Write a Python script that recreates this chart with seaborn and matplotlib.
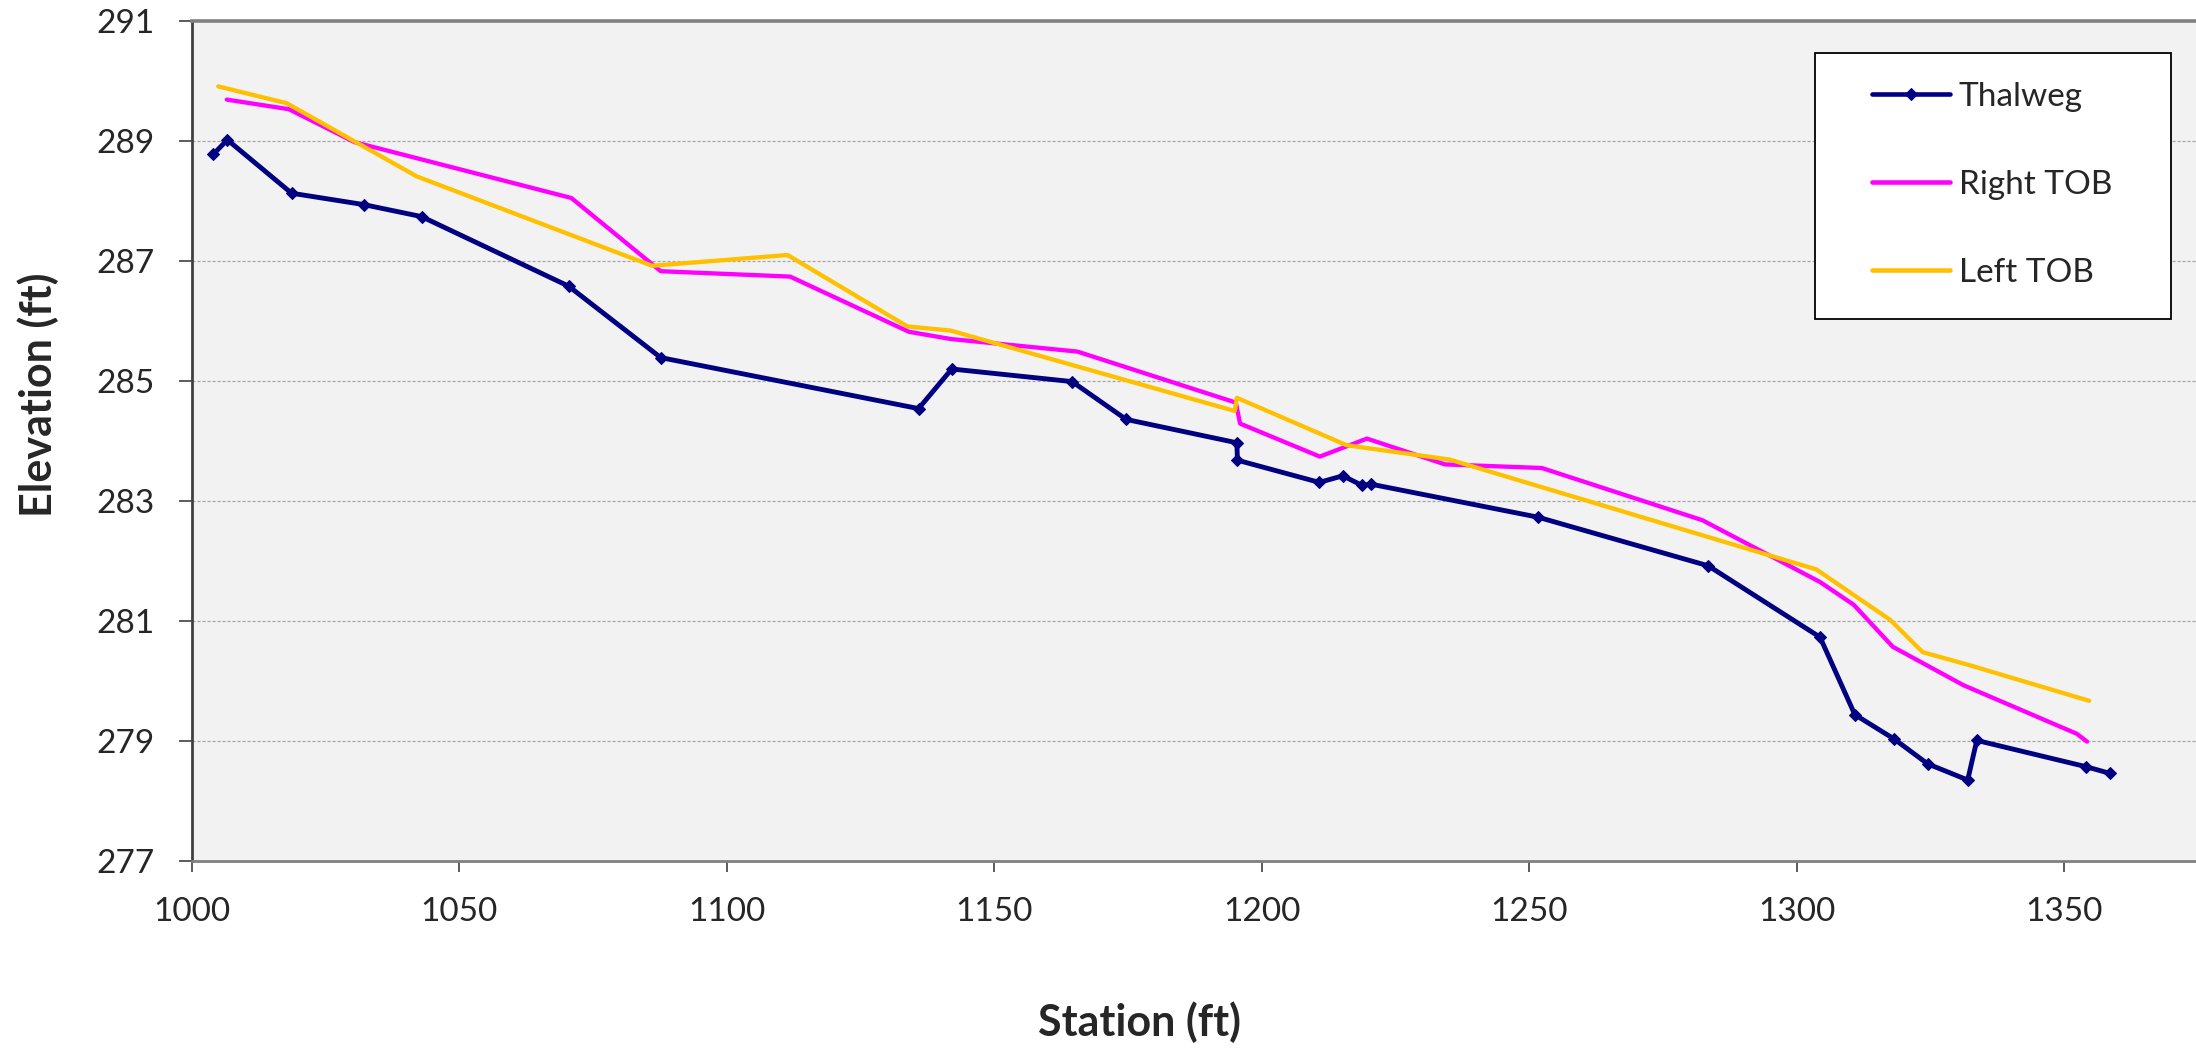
"""
Longitudinal profile: thalweg and top-of-bank elevations along the reach.
Redraws the Excel-style chart with seaborn/matplotlib and saves out.png.
"""
import matplotlib
matplotlib.use("Agg")
import matplotlib.pyplot as plt
import matplotlib.patches as mpatches
import numpy as np
import pandas as pd
import seaborn as sns

# --- data (station ft, elevation ft) ---
thalweg_station = [1004.1, 1006.7, 1018.7, 1032.2, 1043.0, 1070.5, 1087.7, 1135.9, 1142.1,
                   1164.6, 1174.7, 1195.4, 1195.5, 1210.8, 1215.2, 1218.8, 1220.5, 1251.7,
                   1283.5, 1304.4, 1310.9, 1318.3, 1324.5, 1332.0, 1333.7, 1354.2, 1358.6]
thalweg_elev = [288.78, 289.02, 288.13, 287.94, 287.74, 286.58, 285.39, 284.54, 285.20,
                284.99, 284.36, 283.97, 283.68, 283.31, 283.42, 283.26, 283.28, 282.73,
                281.92, 280.73, 279.44, 279.03, 278.62, 278.35, 279.01, 278.57, 278.46]

right_tob_station = [1006.6, 1018.2, 1030.5, 1071.0, 1087.7, 1111.9, 1134.1, 1141.9, 1165.6,
                     1195.2, 1196.0, 1210.9, 1219.7, 1234.3, 1252.4, 1282.4, 1304.4, 1310.7,
                     1318.0, 1331.2, 1352.4, 1354.3]
right_tob_elev = [289.69, 289.53, 288.98, 288.05, 286.83, 286.74, 285.82, 285.70, 285.49,
                  284.64, 284.29, 283.74, 284.04, 283.61, 283.55, 282.68, 281.65, 281.27,
                  280.57, 279.93, 279.12, 278.99]

left_tob_station = [1005.0, 1017.8, 1042.1, 1086.1, 1111.4, 1133.8, 1141.9, 1195.0, 1195.4,
                    1215.9, 1235.2, 1303.7, 1317.5, 1323.6, 1332.1, 1354.7]
left_tob_elev = [289.91, 289.63, 288.41, 286.92, 287.10, 285.91, 285.84, 284.50, 284.72,
                 283.93, 283.69, 281.86, 281.02, 280.48, 280.27, 279.67]

x_ticks = [1000, 1050, 1100, 1150, 1200, 1250, 1300, 1350]
y_ticks = [277, 279, 281, 283, 285, 287, 289, 291]

FIG_W, FIG_H = 2196, 1048

sns.set_theme(style="white")
plt.rcParams["font.family"] = ["Lato", "DejaVu Sans"]

fig = plt.figure(figsize=(FIG_W / 100, FIG_H / 100), dpi=100)
ax = fig.add_axes([191.5 / FIG_W, 1 - 861 / FIG_H, (FIG_W - 191.5) / FIG_W, 840 / FIG_H])
ax.set_facecolor("#F2F2F2")

series = [
    ("Thalweg", thalweg_station, thalweg_elev, "#000080", "D", 3.5),
    ("Right TOB", right_tob_station, right_tob_elev, "#FF00FF", None, 3.1),
    ("Left TOB", left_tob_station, left_tob_elev, "#FFC000", None, 3.1),
]
for name, xs, ys, color, marker, lw in series:
    df = pd.DataFrame({"station": xs, "elev": ys})
    sns.lineplot(data=df, x="station", y="elev", ax=ax, sort=False, estimator=None,
                 color=color, linewidth=lw, marker=marker, markersize=6.5,
                 markeredgecolor=color, label=name, zorder=3)

ax.set_xlim(1000, 1000 + (FIG_W - 191.5) / 5.35)
ax.set_ylim(277, 291)
ax.set_xticks(x_ticks)
ax.set_yticks(y_ticks)

# dashed horizontal gridlines as in the Excel chart
for yv in y_ticks[1:-1]:
    ax.axhline(yv, color="#A6A6A6", linewidth=0.9, linestyle=(0, (2.5, 1.5)), zorder=1)

for side in ["top", "left", "bottom"]:
    ax.spines[side].set_visible(True)
    ax.spines[side].set_color("#808080")
ax.spines["top"].set_linewidth(2.6)
ax.spines["bottom"].set_linewidth(2.0)
ax.spines["left"].set_linewidth(2.0)
ax.spines["left"].set_color("#404040")
ax.spines["right"].set_visible(False)

ax.tick_params(axis="y", direction="out", length=9.5, width=1.2, color="#404040",
               pad=17, labelsize=24, left=True)
ax.tick_params(axis="x", direction="out", length=8, width=1.2, color="#404040",
               pad=18, labelsize=24, bottom=True)

ax.set_xlabel("Station (ft)", fontsize=31, fontweight="bold")
ax.set_ylabel("Elevation (ft)", fontsize=31, fontweight="bold")
ax.xaxis.set_label_coords((1140 - 191.5) / (FIG_W - 191.5), (861 - 1022) / 840)
ax.yaxis.set_label_coords((38 - 191.5) / (FIG_W - 191.5), (861 - 395) / 840)
ax.xaxis.label.set_va("center")
ax.yaxis.label.set_va("center")

# legend box drawn as a white panel, entries placed inside it
box = mpatches.Rectangle((1815 / FIG_W, 1 - 319 / FIG_H), (2171 - 1815) / FIG_W,
                         (319 - 53) / FIG_H, transform=fig.transFigure,
                         facecolor="white", edgecolor="black", linewidth=1.3,
                         zorder=4, clip_on=False)
ax.add_patch(box)
leg = ax.legend(loc="upper left", bbox_to_anchor=(1872 / FIG_W, 1 - 82 / FIG_H),
                bbox_transform=fig.transFigure, frameon=False, fontsize=24,
                borderpad=0, borderaxespad=0, handlelength=2.35, handletextpad=0.25,
                labelspacing=1.74)
leg.set_zorder(5)
for h in leg.legend_handles:
    h.set_linewidth(3.3)

fig.savefig("out.png", dpi=100)
